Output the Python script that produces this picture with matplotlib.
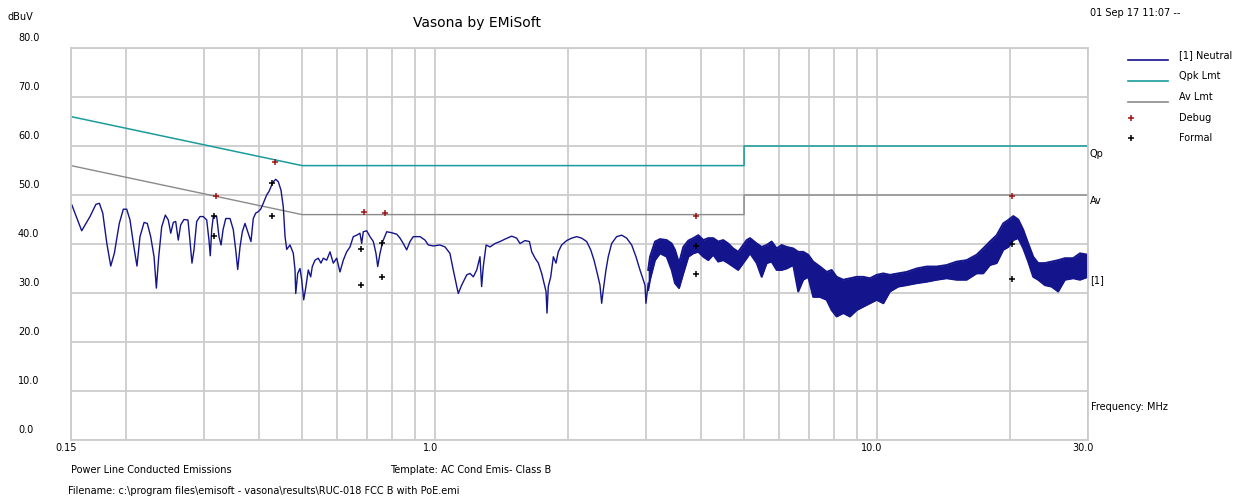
import matplotlib.pyplot as plt
from matplotlib.lines import Line2D
from matplotlib.ticker import FixedLocator, NullLocator

# Neutral trace (MHz, dBuV) - low frequency part drawn as a line
line_freq = [0.1506, 0.1586, 0.1656, 0.1708, 0.1739, 0.1770, 0.1808, 0.1845, 0.1880, 0.1929,
             0.1970, 0.2005, 0.2040, 0.2076, 0.2115, 0.2149, 0.2195, 0.2232, 0.2272, 0.2312,
             0.2340, 0.2369, 0.2406, 0.2452, 0.2490, 0.2522, 0.2556, 0.2588, 0.2623, 0.2656,
             0.2702, 0.2759, 0.2787, 0.2817, 0.2847, 0.2887, 0.2937, 0.2988, 0.3042, 0.3078,
             0.3099, 0.3122, 0.3148, 0.3204, 0.3243, 0.3278, 0.3312, 0.3359, 0.3435, 0.3494,
             0.3538, 0.3575, 0.3618, 0.3662, 0.3713, 0.3777, 0.3831, 0.3877, 0.3926, 0.3979,
             0.4029, 0.4084, 0.4157, 0.4207, 0.4252, 0.4304, 0.4358, 0.4417, 0.4479, 0.4533,
             0.4575, 0.4615, 0.4695, 0.4776, 0.4819, 0.4837, 0.4887, 0.4946, 0.4989, 0.5042,
             0.5094, 0.5164, 0.5229, 0.5273, 0.5348, 0.5439, 0.5517, 0.5583, 0.5683, 0.5783,
             0.5882, 0.5987, 0.6091, 0.6197, 0.6307, 0.6417, 0.6528, 0.6645, 0.6759, 0.6820,
             0.6877, 0.7000, 0.7122, 0.7247, 0.7347, 0.7414, 0.7503, 0.7610, 0.7770, 0.7976,
             0.8186, 0.8327, 0.8471, 0.8622, 0.8772, 0.8924, 0.9242, 0.9485, 0.9650, 0.9905,
             1.025, 1.053, 1.080, 1.099, 1.115, 1.128, 1.148, 1.179, 1.199, 1.220,
             1.242, 1.263, 1.274, 1.285, 1.304, 1.331, 1.366, 1.402, 1.439, 1.490,
             1.529, 1.556, 1.597, 1.634, 1.654, 1.683, 1.712, 1.742, 1.763, 1.782,
             1.791, 1.803, 1.826, 1.851, 1.877, 1.899, 1.933, 1.984, 2.037, 2.090,
             2.145, 2.202, 2.249, 2.288, 2.327, 2.360, 2.381, 2.401, 2.435, 2.464,
             2.508, 2.574, 2.643, 2.712, 2.784, 2.847, 2.907, 2.948, 2.984, 2.999, 3.034]
line_level = [48.0, 42.7, 45.6, 48.1, 48.3, 46.3, 40.1, 35.5, 38.1, 44.2,
              47.1, 47.1, 44.9, 40.1, 35.5, 41.5, 44.4, 44.2, 41.5, 37.4,
              31.0, 37.4, 43.5, 45.9, 44.9, 42.2, 44.4, 44.6, 40.8, 43.9,
              45.0, 44.9, 40.8, 36.1, 38.8, 44.6, 45.6, 45.6, 44.9, 40.8,
              37.6, 42.9, 45.6, 45.6, 41.5, 39.8, 42.9, 45.2, 45.2, 42.9,
              38.8, 34.8, 39.4, 42.5, 44.2, 42.2, 40.5, 45.2, 46.3, 46.6,
              47.1, 48.3, 50.0, 50.7, 51.7, 52.7, 53.2, 52.7, 51.0, 47.6,
              41.5, 38.9, 39.8, 38.1, 34.7, 29.9, 34.0, 35.0, 32.7, 28.6,
              31.0, 34.7, 33.3, 35.4, 36.7, 37.1, 36.1, 37.1, 36.7, 38.4,
              36.1, 37.1, 34.3, 36.7, 38.4, 39.4, 41.5, 41.8, 42.2, 40.1,
              42.5, 42.7, 41.5, 40.5, 38.1, 35.4, 38.1, 40.5, 42.5, 42.3,
              42.0, 41.2, 40.1, 38.8, 40.5, 41.5, 41.5, 40.8, 39.8, 39.6,
              39.8, 39.4, 38.1, 34.7, 32.0, 29.9, 31.6, 33.7, 34.0, 33.3,
              34.7, 37.4, 31.3, 35.4, 39.8, 39.4, 40.1, 40.5, 41.0, 41.6,
              41.2, 40.1, 40.7, 40.5, 38.4, 37.1, 36.1, 34.0, 32.0, 30.3,
              25.9, 31.3, 33.3, 37.4, 36.1, 38.4, 39.8, 40.7, 41.2, 41.5,
              41.2, 40.5, 38.8, 36.7, 34.0, 31.6, 27.9, 30.6, 34.7, 37.4,
              40.1, 41.5, 41.8, 41.2, 39.8, 37.4, 34.7, 33.0, 31.6, 27.9, 32.0]

# Noisy high frequency part: upper and lower edge of the band (MHz, dBuV)
band_freq = [3.034, 3.063, 3.144, 3.227, 3.341, 3.429, 3.489, 3.563, 3.643, 3.740,
             3.839, 3.939, 4.043, 4.149, 4.258, 4.370, 4.485, 4.603, 4.724, 4.849,
             4.977, 5.068, 5.157, 5.340, 5.480, 5.625, 5.772, 5.925, 6.081, 6.241,
             6.459, 6.630, 6.804, 6.984, 7.168, 7.423, 7.688, 7.890, 8.099, 8.384,
             8.680, 8.988, 9.302, 9.634, 9.977, 10.33, 10.69, 11.16, 11.66, 12.29,
             12.95, 13.64, 14.36, 15.13, 15.94, 16.79, 17.38, 18.00, 18.64, 19.29,
             19.80, 20.33, 20.86, 21.41, 21.97, 22.55, 23.14, 23.96, 24.81, 25.68,
             26.60, 27.77, 28.77, 30.0]
band_top = [34.7, 37.4, 40.5, 41.0, 40.8, 40.1, 38.8, 36.1, 39.4, 40.7,
            41.2, 41.8, 40.8, 41.2, 41.2, 40.5, 40.8, 40.1, 39.1, 38.4,
            39.8, 40.8, 41.2, 40.1, 39.4, 39.8, 40.5, 39.1, 39.8, 39.4,
            39.1, 38.4, 38.4, 37.8, 36.4, 35.4, 34.3, 34.7, 33.3, 32.7,
            33.0, 33.3, 33.3, 33.0, 33.7, 34.0, 33.7, 34.0, 34.3, 35.0,
            35.4, 35.4, 35.7, 36.4, 36.7, 37.8, 39.1, 40.5, 41.8, 44.2,
            44.9, 45.7, 45.0, 42.9, 40.1, 37.4, 36.1, 36.1, 36.4, 36.7,
            37.1, 37.1, 38.1, 37.8]
band_bottom = [30.6, 32.7, 36.7, 38.1, 37.4, 34.7, 32.0, 31.0, 34.0, 37.4,
               38.1, 38.4, 37.4, 36.7, 37.8, 36.4, 36.7, 36.1, 35.4, 34.7,
               36.1, 37.1, 38.1, 36.1, 33.3, 36.1, 36.4, 34.7, 34.7, 35.0,
               35.7, 30.3, 32.7, 33.3, 29.2, 29.2, 28.6, 26.5, 25.2, 25.9,
               25.2, 26.5, 27.2, 27.9, 28.6, 27.9, 30.3, 31.3, 31.6, 32.0,
               32.3, 32.7, 33.0, 32.7, 32.7, 34.0, 34.0, 35.7, 36.1, 38.8,
               39.4, 40.8, 41.2, 39.1, 36.4, 33.3, 32.7, 31.6, 31.3, 30.3,
               32.7, 33.0, 32.7, 33.3]

# Limit lines
limit_freq = [0.15, 0.5, 5.0, 5.0, 30.0]
qpk_level = [66, 56, 56, 60, 60]
av_level = [56, 46, 46, 50, 50]

# Measured points
debug_freq = [0.319, 0.434, 0.69, 0.77, 3.89, 20.2]
debug_level = [49.7, 56.8, 46.5, 46.3, 45.8, 49.7]
formal_freq = [0.316, 0.316, 0.427, 0.427, 0.68, 0.68, 0.76, 0.76, 3.89, 3.89, 20.2, 20.2]
formal_level = [45.8, 41.6, 52.4, 45.8, 39.0, 31.6, 40.3, 33.2, 39.6, 33.9, 40.1, 32.9]

y_ticks = [0, 10, 20, 30, 40, 50, 60, 70, 80]
x_grid = [0.15, 0.2, 0.3, 0.4, 0.5, 0.6, 0.7, 0.8, 0.9, 1, 2, 3, 4, 5, 6, 7, 8, 9, 10, 20, 30]
x_label_vals = [0.15, 1.0, 10.0, 30.0]
x_label_text = ['0.15', '1.0', '10.0', '30.0']

navy = '#14148c'
teal = '#1b9c9c'
grey = '#8a8a8a'
red = '#a01414'
grid_c = '#cccccc'
fs = 7

W, H = 1242, 500
fig = plt.figure(figsize=(W / 100, H / 100), dpi=100)
fig.patch.set_facecolor('white')
ax = fig.add_axes([71 / W, 60 / H, 1017 / W, 392 / H])
ax.set_xscale('log')
ax.set_xlim(0.15, 30)
ax.set_ylim(0, 80)
ax.xaxis.set_major_locator(FixedLocator(x_grid))
ax.xaxis.set_minor_locator(NullLocator())
ax.yaxis.set_major_locator(FixedLocator(y_ticks))
ax.tick_params(length=0, labelbottom=False, labelleft=False)
ax.grid(True, color=grid_c, lw=1.3)
ax.set_axisbelow(True)
for s in ax.spines.values():
    s.set_color(grid_c)
    s.set_linewidth(1.3)

# limits
ax.plot(limit_freq, qpk_level, color=teal, lw=1.1)
ax.plot(limit_freq, av_level, color=grey, lw=1.0)

# trace
ax.plot(line_freq, line_level, color=navy, lw=1.0)
ax.fill_between(band_freq, band_bottom, band_top, color=navy, lw=0)
ax.plot(band_freq, band_top, color=navy, lw=1.4)
ax.plot(band_freq, band_bottom, color=navy, lw=1.4)

# markers
ax.plot(debug_freq, debug_level, '+', color=red, ms=5, mew=1.1)
ax.plot(formal_freq, formal_level, '+', color='black', ms=5, mew=1.1)

# axis labels
for v in y_ticks:
    ax.annotate(f'{v:.1f}', xy=(0.15, v), xytext=(-53, 10), textcoords='offset pixels',
                ha='left', va='center', fontsize=fs)
for v, t in zip(x_label_vals, x_label_text):
    ax.annotate(t, xy=(v, 0), xytext=(-5, -8), textcoords='offset pixels',
                ha='center', va='center', fontsize=fs)

ax.annotate('Qp', xy=(30, 60), xytext=(2, -8), textcoords='offset pixels',
            ha='left', va='center', fontsize=fs, annotation_clip=False)
ax.annotate('Av', xy=(30, 50), xytext=(2, -6), textcoords='offset pixels',
            ha='left', va='center', fontsize=fs, annotation_clip=False)
ax.annotate('[1]', xy=(30, 32.7), xytext=(2, 0), textcoords='offset pixels',
            ha='left', va='center', fontsize=fs, annotation_clip=False)
ax.annotate('Frequency: MHz', xy=(30, 6.7), xytext=(3, 0), textcoords='offset pixels',
            ha='left', va='center', fontsize=fs, annotation_clip=False)


def ftext(x, y, s, **kw):
    fig.text(x / W, 1 - y / H, s, va='center', fontsize=kw.pop('fontsize', fs), **kw)


ftext(7, 17, 'dBuV')
ftext(477, 23, 'Vasona by EMiSoft', ha='center', fontsize=10)
ftext(1090, 13, '01 Sep 17 11:07 --')
ftext(71, 470, 'Power Line Conducted Emissions')
ftext(390, 470, 'Template: AC Cond Emis- Class B')
ftext(68, 491, r'Filename: c:\program files\emisoft - vasona\results\RUC-018 FCC B with PoE.emi')

# legend
legend_lines = [('[1] Neutral', navy, 60), ('Qpk Lmt', teal, 81), ('Av Lmt', grey, 102)]
for label, c, y in legend_lines:
    fig.add_artist(Line2D([1128 / W, 1168 / W], [1 - y / H] * 2, color=c, lw=1.2))
    ftext(1179, y - 5, label)
for label, c, y in [('Debug', red, 118), ('Formal', 'black', 138)]:
    fig.add_artist(Line2D([1131 / W], [1 - y / H], marker='+', color=c, ms=5, mew=1.1))
    ftext(1179, y, label)

fig.savefig('out.png', dpi=100)
